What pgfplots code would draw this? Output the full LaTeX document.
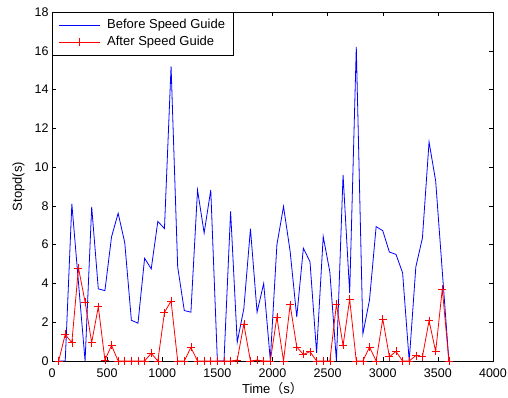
\documentclass[border=0pt]{standalone}
\usepackage{pgfplots}
\pgfplotsset{compat=1.18}
\usetikzlibrary{calc}
\usepackage{fontspec}
\setmainfont{Liberation Sans}
\newfontfamily\cjk{Noto Sans CJK SC}

\pgfplotstableread{
t before after
60 0 0
120 0 1.37
180 8.1 0.95
240 4.05 4.8
300 0 3.05
360 7.95 0.95
420 3.72 2.8
480 3.63 0.05
540 6.4 0.8
600 7.62 0
660 6.1 0
720 2.1 0
780 1.95 0
840 5.3 0
900 4.75 0.4
960 7.2 0
1020 6.83 2.5
1080 15.2 3.1
1140 4.85 0
1200 2.6 0
1260 2.52 0.7
1320 8.82 0
1380 6.6 0
1440 8.82 0
1500 0 0
1560 0 0
1620 7.72 0
1680 0.97 0.05
1740 2.7 1.9
1800 6.82 0
1860 2.52 0.05
1920 4.0 0
1980 0.05 0
2040 6.0 2.27
2100 7.97 0
2160 5.65 2.9
2220 2.27 0.72
2280 5.82 0.34
2340 5.12 0.48
2400 0.42 0
2460 6.42 0
2520 4.6 0
2580 0 2.93
2640 9.6 0.8
2700 3.5 3.18
2760 16.2 0
2820 1.4 0
2880 3.15 0.72
2940 6.93 0
3000 6.72 2.17
3060 5.62 0.22
3120 5.5 0.49
3180 4.55 0
3240 0 0
3300 4.85 0.28
3360 6.35 0.22
3420 11.3 2.08
3480 9.28 0.49
3540 4.63 3.72
3600 0 0
}\datatable

\begin{document}
\begin{tikzpicture}
\begin{axis}[
  name=ax,
  scale only axis,
  width=441pt, height=349pt,
  xmin=0, xmax=4000, ymin=0, ymax=18,
  xtick={0,500,...,4000},
  ytick={0,2,...,18},
  tick align=inside,
  major tick length=4pt,
  tick style={black, line width=0.5pt},
  axis line style={black, line width=0.8pt},
  /pgf/number format/assume math mode=true,
  /pgf/number format/1000 sep={},
  tick label style={font=\fontsize{12.5}{14}\selectfont},
  xticklabel style={yshift=-4.5pt},
  xlabel={Time{\cjk （}s{\cjk ）}},
  ylabel={Stopd(s)},
  label style={font=\fontsize{13}{15}\selectfont},
  xlabel style={at={(axis description cs:0.5,0)}, anchor=base, yshift=-32.7pt},
  ylabel style={at={(axis description cs:0,0.5)}, anchor=center, rotate=0, yshift=33.5pt},
  legend style={at={(0,1)}, anchor=north west, draw=black, line width=0.8pt,
    font=\fontsize{13}{15}\selectfont, inner xsep=6pt, inner ysep=4.5pt, row sep=0pt,
    column sep=5pt,
    nodes={inner sep=2pt, text height=10pt, text depth=3pt},
    fill=white},
  legend cell align=left,
  legend image code/.code={
    \draw[mark repeat=2,mark phase=2,#1] plot coordinates {(0pt,0pt) (20.5pt,0pt) (41pt,0pt)};
  },
]
\addplot[color={rgb,255:red,0;green,0;blue,255}, line width=0.8pt, mark=none] table[x=t,y=before] {\datatable};
\addlegendentry{Before Speed Guide}
\addplot[color={rgb,255:red,255;green,0;blue,0}, line width=0.8pt, mark=+, mark size=4pt, mark options={line width=0.6pt}] table[x=t,y=after] {\datatable};
\addlegendentry{After Speed Guide}
\end{axis}
\pgfresetboundingbox
\path ($(ax.south west)+(-52pt,-37pt)$) rectangle ($(ax.north east)+(15pt,12pt)$);
\end{tikzpicture}
\end{document}
